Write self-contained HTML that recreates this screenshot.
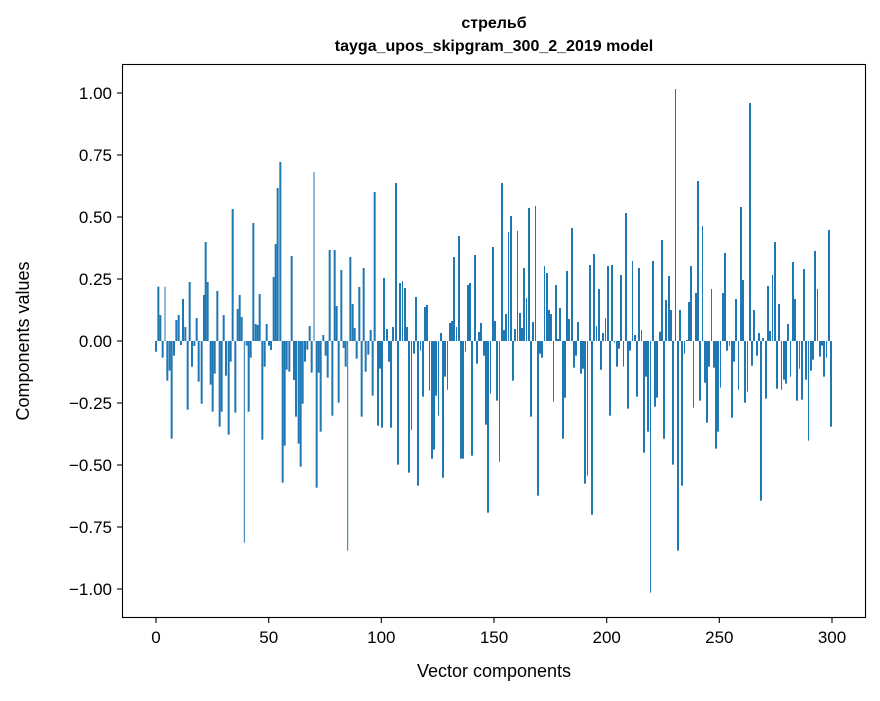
<!DOCTYPE html>
<html><head><meta charset="utf-8"><style>
body{margin:0;background:#fff;}
svg text{font-family:"Liberation Sans","DejaVu Sans",sans-serif;fill:#000;}
</style></head><body>
<svg id="s" width="880" height="696" viewBox="0 0 880 696" xmlns="http://www.w3.org/2000/svg">
<rect width="880" height="696" fill="#fff"/>
<g id="bars" fill="#1f77b4"></g>
<rect x="122.5" y="64.5" width="743" height="553" fill="none" stroke="#000" stroke-width="1.1"/>
<g stroke="#000" stroke-width="1.1">
<line x1="156" y1="618" x2="156" y2="623"/><line x1="268.7" y1="618" x2="268.7" y2="623"/><line x1="381.3" y1="618" x2="381.3" y2="623"/><line x1="494" y1="618" x2="494" y2="623"/><line x1="606.7" y1="618" x2="606.7" y2="623"/><line x1="719.3" y1="618" x2="719.3" y2="623"/><line x1="832" y1="618" x2="832" y2="623"/>
<line x1="117" y1="93" x2="122" y2="93"/><line x1="117" y1="155" x2="122" y2="155"/><line x1="117" y1="217" x2="122" y2="217"/><line x1="117" y1="279" x2="122" y2="279"/><line x1="117" y1="341" x2="122" y2="341"/><line x1="117" y1="403" x2="122" y2="403"/><line x1="117" y1="465" x2="122" y2="465"/><line x1="117" y1="527" x2="122" y2="527"/><line x1="117" y1="589" x2="122" y2="589"/>
</g>
<g font-size="17" text-anchor="middle">
<text x="156" y="643">0</text><text x="268.7" y="643">50</text><text x="381.3" y="643">100</text><text x="494" y="643">150</text><text x="606.7" y="643">200</text><text x="719.3" y="643">250</text><text x="832" y="643">300</text>
</g>
<g font-size="17" text-anchor="end">
<text x="112" y="99">1.00</text><text x="112" y="161">0.75</text><text x="112" y="223">0.50</text><text x="112" y="285">0.25</text><text x="112" y="347">0.00</text><text x="112" y="409">−0.25</text><text x="112" y="471">−0.50</text><text x="112" y="533">−0.75</text><text x="112" y="595">−1.00</text>
</g>
<text x="494" y="677" font-size="18" text-anchor="middle">Vector components</text>
<text transform="translate(29,341) rotate(-90)" font-size="18" text-anchor="middle">Components values</text>
<text x="494" y="28" font-size="16" font-weight="bold" text-anchor="middle">стрельб</text>
<text x="494" y="51" font-size="16" font-weight="bold" text-anchor="middle">tayga_upos_skipgram_300_2_2019 model</text>
</svg>
<script>
var g=document.getElementById('bars');
function add(cx,cy,z,arr){arr.forEach(function(a){var x0=cx+a[0]/3,x1=cx+a[1]/3,y=cy+a[2]/3;
var r=document.createElementNS('http://www.w3.org/2000/svg','rect');
r.setAttribute('x',x0);r.setAttribute('width',Math.max(0.8,x1-x0));
r.setAttribute('y',Math.min(y,341));r.setAttribute('height',Math.max(0.5,Math.abs(y-341)));g.appendChild(r);});}
var z1=[[18,605],[25,410],[31,495],[38,623],[45,410],[52,692],[59,662],[65,866],[72,617],[79,510],[86,495],[93,585],[99,447],[106,531],[113,779],[119,396],[126,650],[133,588],[140,504],[146,695],[155,761],[162,435],[167,276],[173,396],[182,704],[188,785],[194,671],[202,423],[209,830],[215,785],[221,495],[228,677],[236,854],[242,635],[248,177],[256,788],[263,477],[269,435],[275,501],[283,1178],[290,587],[296,785],[302,623],[310,219],[317,522],[323,525],[329,432],[337,869],[344,650],[350,522],[357,587],[363,600],[371,381],[377,282],[383,114],[391,36],[398,998],[404,887],[410,659],[418,665],[425,318],[432,690],[438,800],[446,881],[452,950],[458,761],[465,635],[472,599],[479,528],[485,668],[492,66],[500,1013],[506,668],[512,845],[520,555],[527,617],[533,683],[539,300],[547,797],[554,300],[560,468],[566,758],[574,360],[581,594],[587,650],[593,1202],[601,321],[608,462],[614,534],[620,626],[628,411],[635,800],[641,354],[647,665],[655,614],[662,540],[668,737],[674,126]];
add(150,150,0,z1.map(function(a){var w=(a[0]==45||a[0]==283||a[0]==492||a[0]==593)?1.5:3;return [a[0]-w,a[0]+w,a[1]];}));
var z2=[[6,12,827],[12,18,656],[18,24,833],[24,30,384],[33,39,537],[39,45,635],[45,51,833],[51,57,531],[60,66,99],[66,72,944],[72,78,399],[81,84,393],[87,93,414],[93,99,531],[99,105,968],[108,111,839],[114,120,611],[120,126,441],[126,132,1007],[135,138,602],[141,147,740],[147,153,471],[153,159,465],[162,165,722],[168,174,926],[174,180,899],[180,186,737],[189,192,797],[195,201,549],[201,207,983],[207,213,680],[216,219,719],[222,228,519],[228,234,513],[234,240,321],[243,246,531],[249,255,258],[255,261,926],[261,267,926],[270,273,605],[276,282,405],[282,288,399],[288,294,917],[297,303,315],[303,309,641],[309,315,546],[315,321,519],[324,330,617],[330,336,824],[336,342,1088],[345,348,731],[351,357,291],[357,363,513],[363,369,752],[372,375,935],[378,384,99],[384,390,540],[390,396,492],[399,402,246],[405,411,198],[411,417,692],[417,423,537],[426,429,243],[432,438,489],[438,444,534],[444,450,354],[453,456,444],[459,465,174],[465,471,800],[471,477,516],[480,483,168],[486,492,1037],[492,498,611],[498,504,623],[507,510,348],[513,519,369],[519,525,480],[525,531,492],[534,537,755],[540,546,405],[546,552,567],[552,558,474],[561,567,866],[567,573,743],[573,579,363],[579,585,507],[588,594,234],[594,600,653],[600,606,617],[606,612,516],[615,621,671],[621,627,656],[627,633,1001],[636,639,977],[642,648,345],[648,654,1094],[654,660,312],[663,666,528],[669,675,417],[675,681,659],[681,687,549]];
add(375,150,0,z2);
var z3=[[0,6,869],[6,12,759],[15,18,714],[21,27,558],[27,33,1007],[33,39,555],[42,45,788],[48,54,860],[54,60,806],[60,66,585],[69,72,860],[75,81,399],[81,87,986],[87,93,812],[96,99,543],[102,108,765],[108,114,950],[114,120,564],[123,126,750],[129,135,1118],[135,141,890],[141,147,1055],[150,153,1538],[156,162,543],[162,168,980],[168,174,953],[177,183,755],[183,189,480],[189,195,1076],[195,201,660],[204,210,588],[210,216,690],[216,222,1154],[225,228,27],[231,237,1412],[237,243,690],[243,249,1217],[252,255,821],[258,264,780],[264,270,666],[270,276,558],[279,282,983],[285,291,639],[291,297,303],[297,303,962],[306,309,438],[312,318,908],[318,324,1028],[324,330,860],[333,336,627],[339,345,863],[345,351,1106],[351,357,1055],[360,363,923],[366,372,639],[372,378,519],[378,384,812],[387,390,797],[393,399,1013],[399,405,845],[405,411,657],[414,417,929],[420,426,381],[426,432,600],[432,438,968],[441,444,935],[447,453,69],[453,459,857],[459,465,690],[468,474,827],[474,480,759],[480,486,1262],[486,492,774],[495,501,956],[501,507,618],[507,513,753],[516,519,585],[522,528,486],[528,534,926],[534,540,672],[543,546,929],[549,555,899],[555,561,911],[561,567,732],[570,573,890],[576,582,546],[582,588,657],[588,594,962],[597,600,866],[603,609,959],[609,615,567],[615,621,899],[624,627,1082],[630,636,872],[636,642,839],[642,648,513],[651,654,627],[657,663,830],[663,669,797],[669,675,890],[678,681,833],[684,690,450],[690,696,1040]];
add(600,80,0,z3);
</script>
</body></html>
